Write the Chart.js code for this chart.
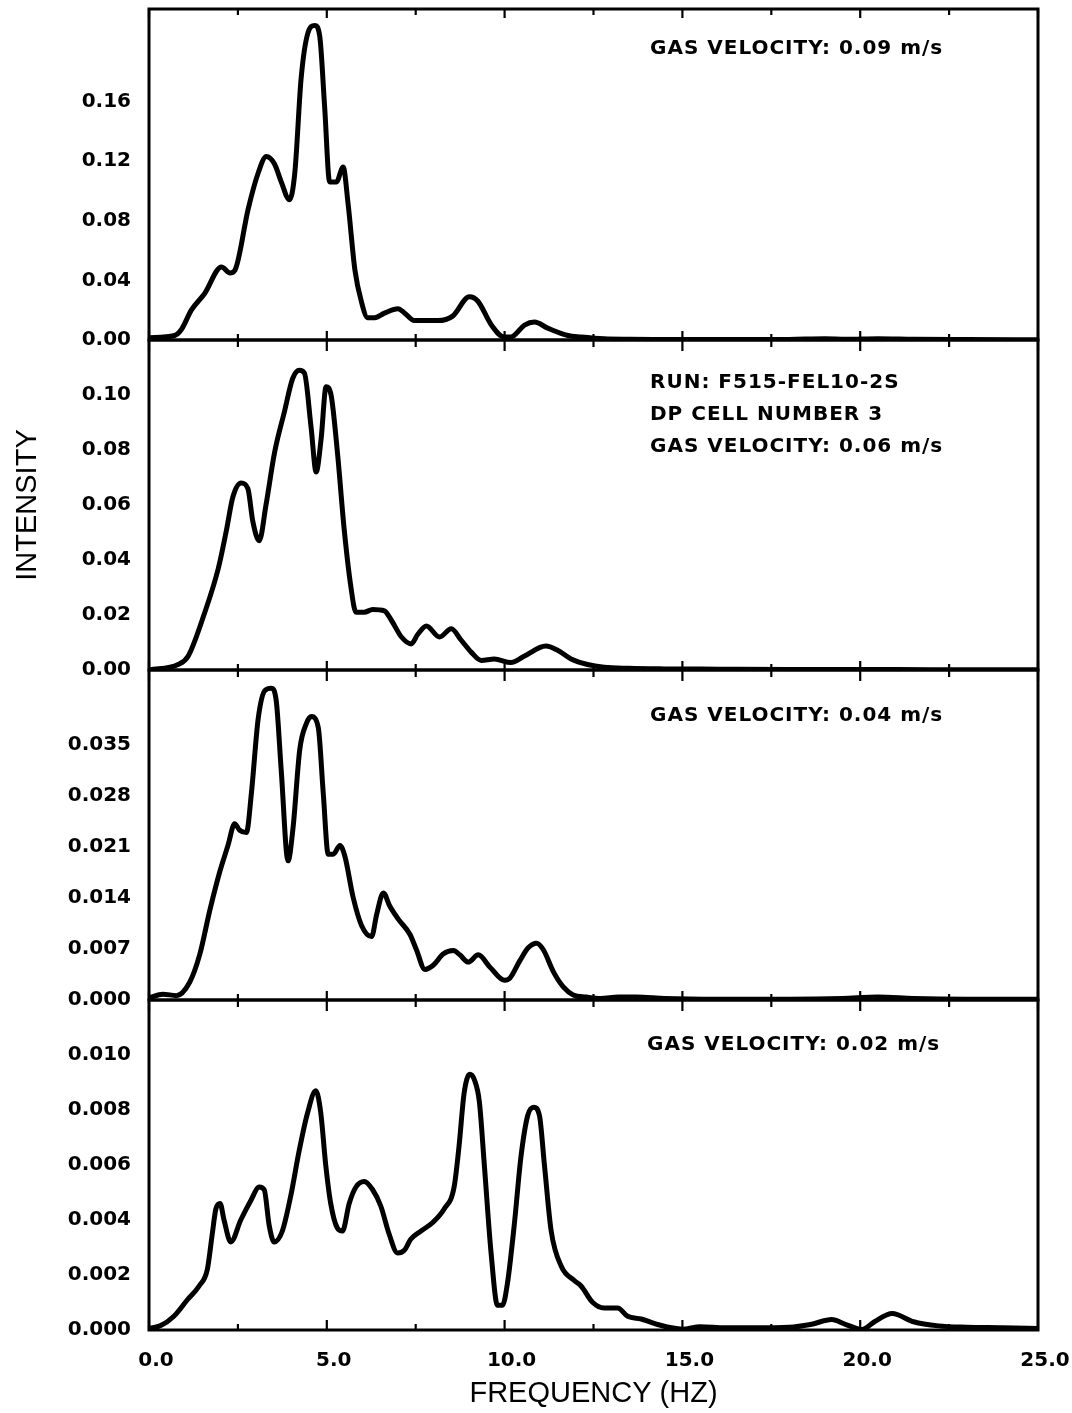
<!DOCTYPE html>
<html><head><meta charset="utf-8">
<script src="https://cdn.jsdelivr.net/npm/chart.js@4/dist/chart.umd.min.js"></script>
<style>
html,body{margin:0;padding:0;background:#fff;}
#wrap{position:relative;width:1072px;height:1413px;overflow:hidden;background:#fff;}
#wrap canvas{position:absolute;left:0;}
</style>
</head><body>
<div id="wrap">
<canvas id="p1"></canvas><canvas id="p2"></canvas><canvas id="p3"></canvas><canvas id="p4"></canvas>
</div>
<script>
// ---------- data ----------
const xTicks = [0, 2.5, 5, 7.5, 10, 12.5, 15, 17.5, 20, 22.5, 25];
const xTickLabels = ['0.0', '', '5.0', '', '10.0', '', '15.0', '', '20.0', '', '25.0'];

const yTickLabels1 = ['0.00', '0.04', '0.08', '0.12', '0.16'];
const yTickLabels2 = ['0.00', '0.02', '0.04', '0.06', '0.08', '0.10'];
const yTickLabels3 = ['0.000', '0.007', '0.014', '0.021', '0.028', '0.035'];
const yTickLabels4 = ['0.000', '0.002', '0.004', '0.006', '0.008', '0.010'];

const yMax1 = 0.222, yMax2 = 0.12, yMax3 = 0.0453, yMax4 = 0.012;

const freq1 = [0,0.72,0.91,1.19,1.56,2.04,2.28,2.42,2.79,3.07,3.30,3.53,3.72,3.95,4.10,4.28,4.47,4.66,4.80,4.94,5.08,5.27,5.46,5.60,5.79,5.97,6.15,6.35,6.62,7.0,7.19,7.46,8.12,8.54,9.01,9.25,9.63,9.99,10.18,10.56,10.84,11.21,11.78,12.15,12.8,13.5,14.5,16,18,19,19.6,20.5,21.5,23,25];
const int1 = [0.0015,0.003,0.007,0.020,0.031,0.049,0.045,0.047,0.088,0.112,0.123,0.118,0.106,0.094,0.112,0.176,0.206,0.211,0.204,0.156,0.106,0.106,0.116,0.091,0.047,0.026,0.015,0.015,0.018,0.021,0.018,0.013,0.013,0.016,0.029,0.026,0.010,0.002,0.002,0.010,0.012,0.008,0.003,0.002,0.0008,0.0005,0.0004,0.0003,0.0004,0.0008,0.0005,0.0009,0.0005,0.0003,0.0002];

const freq2 = [0,0.82,1.10,1.57,1.95,2.18,2.36,2.59,2.78,2.92,3.10,3.29,3.53,3.81,4.04,4.23,4.37,4.56,4.70,4.84,4.98,5.12,5.30,5.49,5.68,5.82,6.05,6.29,6.62,6.82,7.10,7.37,7.56,7.80,8.17,8.50,8.77,9.06,9.34,9.71,10.18,10.55,11.16,11.49,11.87,12.33,12.8,13.5,14.5,16,18,20,22,25];
const int2 = [0,0.002,0.005,0.021,0.037,0.051,0.063,0.068,0.066,0.054,0.047,0.060,0.079,0.094,0.106,0.109,0.108,0.088,0.072,0.084,0.103,0.100,0.079,0.051,0.030,0.021,0.021,0.022,0.0215,0.018,0.012,0.0095,0.013,0.016,0.012,0.015,0.011,0.0065,0.0035,0.004,0.0027,0.005,0.0087,0.0072,0.004,0.002,0.001,0.0006,0.0004,0.0003,0.0002,0.0002,0.0001,0.0001];

const freq3 = [0,0.39,0.77,1.14,1.43,1.71,1.99,2.22,2.41,2.55,2.74,2.88,3.07,3.26,3.44,3.58,3.72,3.91,4.05,4.24,4.43,4.57,4.76,4.90,5.04,5.18,5.37,5.51,5.74,5.98,6.26,6.40,6.59,6.77,7.01,7.34,7.52,7.76,8.0,8.27,8.56,8.74,8.98,9.26,9.59,10.0,10.15,10.43,10.67,10.90,11.09,11.37,11.65,11.93,12.3,12.7,13.2,13.7,14.5,16,18,19.5,20.5,21.5,23,25];
const int3 = [0.0003,0.0008,0.0006,0.0024,0.0063,0.0123,0.0176,0.0212,0.0242,0.0233,0.0230,0.0284,0.0386,0.0425,0.0428,0.0410,0.0314,0.0191,0.0236,0.0344,0.0380,0.0389,0.0374,0.0284,0.0200,0.0200,0.0212,0.0197,0.0141,0.0102,0.0087,0.0117,0.0147,0.0129,0.0111,0.0090,0.0069,0.0042,0.0048,0.0063,0.0068,0.0062,0.0052,0.0062,0.0045,0.0027,0.0030,0.0054,0.0072,0.0078,0.0069,0.0039,0.0018,0.0007,0.0004,0.0002,0.0004,0.0004,0.0002,0.0001,0.0001,0.0002,0.0004,0.0002,0.0001,0.0001];

const freq4 = [0,0.33,0.70,1.08,1.41,1.64,1.78,1.88,2.0,2.11,2.30,2.58,2.86,3.10,3.24,3.38,3.52,3.75,3.99,4.22,4.46,4.69,4.83,4.97,5.11,5.30,5.44,5.63,5.82,6.05,6.29,6.52,6.75,6.99,7.18,7.36,7.65,7.97,8.30,8.58,8.72,8.86,9.02,9.15,9.29,9.43,9.62,9.80,9.94,10.08,10.27,10.46,10.65,10.82,10.98,11.12,11.31,11.60,11.96,12.15,12.48,12.8,13.18,13.46,13.84,14.3,15.0,15.5,16.2,17,18,18.6,19.2,19.6,20.05,20.4,20.9,21.5,22.2,23,24,25];
const int4 = [0.00005,0.00016,0.0005,0.0011,0.0016,0.0022,0.0035,0.0044,0.0046,0.0040,0.0032,0.0040,0.0047,0.0052,0.0051,0.0038,0.0032,0.0036,0.0049,0.0065,0.0079,0.0087,0.0079,0.0060,0.0046,0.0037,0.0036,0.0046,0.0052,0.0054,0.0051,0.0045,0.0035,0.0028,0.0029,0.0033,0.0036,0.0039,0.0044,0.0052,0.0067,0.0086,0.0093,0.0091,0.0083,0.0060,0.0028,0.0009,0.0009,0.0017,0.0038,0.0063,0.0078,0.0081,0.0078,0.0060,0.0036,0.0023,0.0018,0.0016,0.0010,0.0008,0.0008,0.0005,0.0004,0.0002,0.00003,0.00012,0.00008,0.00008,0.0001,0.0002,0.00038,0.0002,0.00002,0.0003,0.0006,0.0003,0.00015,0.0001,0.00008,0.00005];

const notes1 = ['GAS VELOCITY: 0.09 m/s'];
const notes2 = ['RUN: F515-FEL10-2S', 'DP CELL NUMBER 3', 'GAS VELOCITY: 0.06 m/s'];
const notes3 = ['GAS VELOCITY: 0.04 m/s'];
const notes4 = ['GAS VELOCITY: 0.02 m/s'];

// ---------- layout / style ----------
const W = 1072, H = 1413, PAD = 16;
const PLOT_LEFT = 149, PLOT_RIGHT = 1038;
const TICK_FONT = {family: '"DejaVu Sans", sans-serif', size: 20, weight: 'bold'};
const TITLE_FONT = {family: '"Liberation Sans", Arial, sans-serif', size: 29, weight: 'normal'};

const framePlugin = {
  id: 'frame',
  afterDatasetsDraw(chart, args, opts) {
    const ctx = chart.ctx, a = chart.chartArea, x = chart.scales.x;
    ctx.save();
    ctx.strokeStyle = '#000';
    ctx.lineCap = 'butt';
    ctx.lineWidth = 3;
    ctx.strokeRect(a.left, a.top, a.right - a.left, a.bottom - a.top);
    ctx.lineWidth = 2.2;
    const seg = (x1, y1, x2, y2) => { ctx.beginPath(); ctx.moveTo(x1, y1); ctx.lineTo(x2, y2); ctx.stroke(); };
    xTicks.forEach((v, i) => {
      const px = x.getPixelForValue(v);
      const major = xTickLabels[i] !== '';
      if (opts.top === 'in') seg(px, a.top, px, a.top + (major ? 9 : 6));
      if (opts.bottom === 'cross') seg(px, a.bottom - (major ? 9 : 6), px, a.bottom + (major ? 11 : 7));
      if (opts.bottom === 'in') seg(px, a.bottom, px, a.bottom - (major ? 10 : 6));
    });
    // annotation text
    ctx.fillStyle = '#000';
    ctx.font = 'bold 20px "DejaVu Sans", sans-serif';
    ctx.textAlign = 'left';
    ctx.textBaseline = 'alphabetic';
    try { ctx.letterSpacing = '1px'; } catch (e) {}
    (opts.notes || []).forEach((t, i) => {
      ctx.fillText(t, opts.noteX, a.top + opts.noteY + i * 32);
    });
    ctx.restore();
  }
};

function makePanel(id, top, bottom, freq, vals, yMax, yLabels, frame, isBottom, yTitle) {
  const cv = document.getElementById(id);
  const cTop = top - PAD;
  const cH = isBottom ? (H - cTop) : (bottom - top + 2 * PAD);
  cv.width = W; cv.height = cH;
  cv.style.top = cTop + 'px';
  cv.style.width = W + 'px'; cv.style.height = cH + 'px';

  return new Chart(cv, {
    type: 'line',
    data: {
      datasets: [{
        data: freq.map((f, i) => ({x: f, y: vals[i]})),
        borderColor: '#000',
        borderWidth: 5,
        pointRadius: 0,
        fill: false,
        cubicInterpolationMode: 'monotone',
        borderJoinStyle: 'round',
        borderCapStyle: 'round'
      }]
    },
    options: {
      responsive: false,
      animation: false,
      devicePixelRatio: 1,
      layout: {padding: {left: 0, right: W - PLOT_RIGHT, top: PAD, bottom: isBottom ? 0 : PAD}},
      plugins: {
        legend: {display: false},
        tooltip: {enabled: false},
        frame: frame
      },
      scales: {
        x: {
          type: 'linear', min: 0, max: 25,
          display: isBottom,
          grid: {display: false, drawTicks: false},
          border: {display: false},
          afterBuildTicks: s => { s.ticks = xTicks.map(v => ({value: v})); },
          afterFit: s => {
            if (isBottom) s.height = H - bottom;
            s.paddingLeft = 0; s.paddingRight = 0; s.paddingTop = 0; s.paddingBottom = 0;
          },
          ticks: {
            autoSkip: false, maxRotation: 0, minRotation: 0,
            padding: 19, labelOffset: 7, color: '#000', font: TICK_FONT,
            callback: (v, i) => xTickLabels[i]
          },
          title: {
            display: isBottom, text: 'FREQUENCY (HZ)', color: '#000',
            font: TITLE_FONT, padding: {top: 0, bottom: 2}
          }
        },
        y: {
          type: 'linear', min: 0, max: yMax,
          grid: {display: false, drawTicks: false},
          border: {display: false},
          afterBuildTicks: s => { s.ticks = yLabels.map(t => ({value: parseFloat(t)})); },
          afterFit: s => {
            s.width = PLOT_LEFT;
            s.paddingTop = 0; s.paddingBottom = 0; s.paddingLeft = 0; s.paddingRight = 0;
          },
          ticks: {
            padding: 18, color: '#000', font: TICK_FONT,
            callback: (v, i) => yLabels[i]
          },
          title: {
            display: !!yTitle, text: yTitle || '', color: '#000',
            font: TITLE_FONT, padding: {top: 11, bottom: 0}
          }
        }
      }
    },
    plugins: [framePlugin]
  });
}

makePanel('p1', 9, 340, freq1, int1, yMax1, yTickLabels1,
  {top: 'in', bottom: 'cross', notes: notes1, noteX: 650, noteY: 45}, false, null);
makePanel('p2', 340, 670, freq2, int2, yMax2, yTickLabels2,
  {bottom: 'cross', notes: notes2, noteX: 650, noteY: 48}, false, 'INTENSITY');
makePanel('p3', 670, 1000, freq3, int3, yMax3, yTickLabels3,
  {bottom: 'cross', notes: notes3, noteX: 650, noteY: 51}, false, null);
makePanel('p4', 1000, 1330, freq4, int4, yMax4, yTickLabels4,
  {bottom: 'in', notes: notes4, noteX: 647, noteY: 50}, true, null);
</script>
</body></html>
